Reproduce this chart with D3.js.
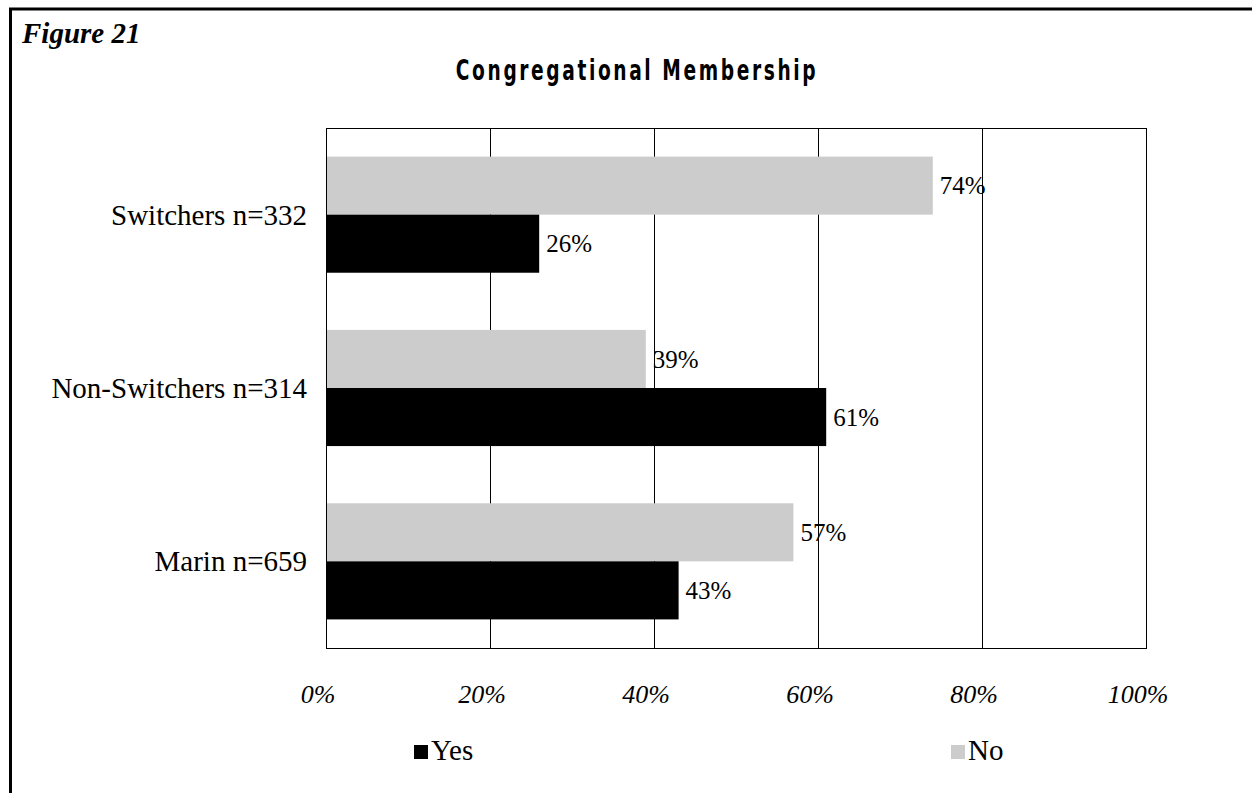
<!DOCTYPE html>
<html>
<head>
<meta charset="utf-8">
<script src="https://cdn.jsdelivr.net/npm/d3@7"></script>
<style>
    body { margin: 0; background: #fff; }
    .serif { font-family: "Liberation Serif", "DejaVu Serif", serif; }
    .chart-title {
        font-family: "Liberation Sans Narrow", "DejaVu Sans Condensed", "Liberation Sans", sans-serif;
        font-weight: bold;
        letter-spacing: 3.5px;
    }
</style>
</head>
<body>
<div id="chart"></div>
<script>
// Data
const categories = ["Switchers n=332", "Non-Switchers n=314", "Marin n=659"];
const seriesNames = ["No", "Yes"];
const noValues = [74, 39, 57];
const yesValues = [26, 61, 43];
const xTicks = [0, 20, 40, 60, 80, 100];

const colors = { Yes: "#000000", No: "#cccccc" };

// Configuration
const W = 1252, H = 793;
const plot = { left: 326, top: 128, right: 1146, bottom: 648 };

const svg = d3.select("#chart")
    .append("svg")
    .attr("width", W)
    .attr("height", H);

svg.append("rect").attr("width", W).attr("height", H).attr("fill", "#fff");

// Page border (top and left only)
svg.append("line")
    .attr("x1", 9).attr("x2", W).attr("y1", 9).attr("y2", 9)
    .attr("stroke", "#000").attr("stroke-width", 3);
svg.append("line")
    .attr("x1", 10.5).attr("x2", 10.5).attr("y1", 8).attr("y2", H)
    .attr("stroke", "#000").attr("stroke-width", 3);

svg.append("text")
    .attr("class", "serif")
    .attr("x", 22)
    .attr("y", 43)
    .style("font-size", "29px")
    .style("font-weight", "bold")
    .style("font-style", "italic")
    .text("Figure 21");

// Title, squeezed horizontally to look condensed
svg.append("text")
    .attr("class", "chart-title")
    .attr("transform", "translate(637, 80) scale(0.74, 1)")
    .attr("text-anchor", "middle")
    .style("font-size", "28px")
    .text("Congregational Membership");

// Scales
const xScale = d3.scaleLinear()
    .domain([0, 100])
    .range([plot.left, plot.right]);

const yScale = d3.scaleBand()
    .domain(categories)
    .range([plot.top, plot.bottom])
    .paddingInner(0.33)
    .paddingOuter(0.165);

const subScale = d3.scaleBand()
    .domain(seriesNames)
    .range([0, yScale.bandwidth()]);

// Grid lines
svg.append("g")
    .selectAll("line")
    .data(xTicks.slice(1, -1))
    .join("line")
    .attr("x1", d => xScale(d) + 0.5)
    .attr("x2", d => xScale(d) + 0.5)
    .attr("y1", plot.top)
    .attr("y2", plot.bottom)
    .attr("stroke", "#000")
    .attr("stroke-width", 1);

// Bars
const rows = [];
categories.forEach((c, i) => {
    rows.push({ cat: c, series: "No", value: noValues[i] });
    rows.push({ cat: c, series: "Yes", value: yesValues[i] });
});

svg.append("g")
    .selectAll("rect")
    .data(rows)
    .join("rect")
    .attr("x", xScale(0))
    .attr("y", d => yScale(d.cat) + subScale(d.series))
    .attr("width", d => xScale(d.value) - xScale(0))
    .attr("height", subScale.bandwidth())
    .attr("fill", d => colors[d.series]);

// Value labels
svg.append("g")
    .selectAll("text")
    .data(rows)
    .join("text")
    .attr("class", "serif")
    .attr("x", d => xScale(d.value) + 7)
    .attr("y", d => yScale(d.cat) + subScale(d.series) + subScale.bandwidth() / 2)
    .attr("dy", "0.35em")
    .style("font-size", "25px")
    .text(d => d.value + "%");

// Plot frame
svg.append("rect")
    .attr("x", plot.left + 0.5)
    .attr("y", plot.top + 0.5)
    .attr("width", plot.right - plot.left)
    .attr("height", plot.bottom - plot.top)
    .attr("fill", "none")
    .attr("stroke", "#000")
    .attr("stroke-width", 1);

// Category labels
svg.append("g")
    .selectAll("text")
    .data(categories)
    .join("text")
    .attr("class", "serif")
    .attr("x", 307)
    .attr("y", d => yScale(d) + subScale.bandwidth())
    .attr("dy", "0.35em")
    .attr("text-anchor", "end")
    .style("font-size", "29px")
    .text(d => d);

// X tick labels
svg.append("g")
    .selectAll("text")
    .data(xTicks)
    .join("text")
    .attr("class", "serif")
    .attr("x", d => xScale(d) - 8)
    .attr("y", 703)
    .attr("text-anchor", "middle")
    .style("font-size", "26px")
    .style("font-style", "italic")
    .text(d => d + "%");

// Legend
const legendItems = [
    { name: "Yes", x: 414 },
    { name: "No", x: 951 }
];
const legend = svg.append("g");
legend.selectAll("rect")
    .data(legendItems)
    .join("rect")
    .attr("x", d => d.x)
    .attr("y", 745)
    .attr("width", 14)
    .attr("height", 14)
    .attr("fill", d => colors[d.name]);
legend.selectAll("text")
    .data(legendItems)
    .join("text")
    .attr("class", "serif")
    .attr("x", d => d.x + 17)
    .attr("y", 760)
    .style("font-size", "29px")
    .text(d => d.name);
</script>
</body>
</html>
